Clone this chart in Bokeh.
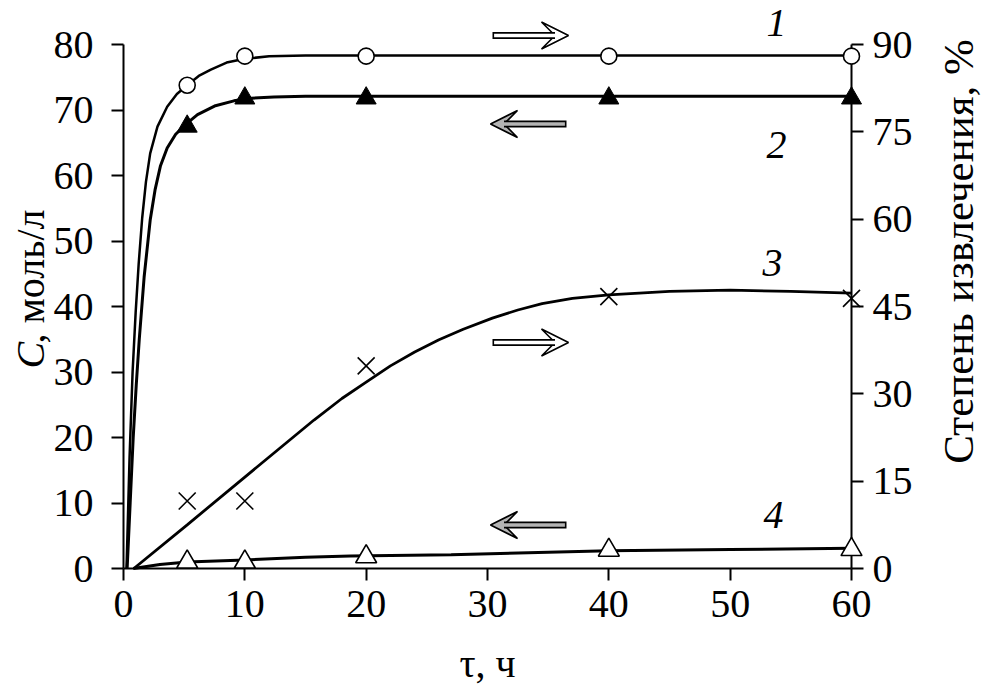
import math
from bokeh.plotting import figure
from bokeh.models import Range1d, LinearAxis, FixedTicker, Arrow, VeeHead
from bokeh.core.properties import value
from bokeh.embed import file_html
from bokeh.resources import INLINE

# ---------------- data ----------------
t_points = [5.25, 10, 20, 40, 60]
s1_extraction_pct = [83.0, 88.0, 88.0, 88.0, 88.0]   # curve 1 (right axis), open circles
s2_conc = [67.5, 71.8, 71.8, 71.8, 71.8]             # curve 2 (left axis), filled triangles
s3_extraction_pct = [11.6, 11.6, 34.8, 46.7, 46.4]   # curve 3 (right axis), crosses
s4_conc = [1.0, 1.0, 1.8, 2.8, 2.9]                  # curve 4 (left axis), open triangles

c1_t = [0.25, 0.5, 0.75, 1.0, 1.25, 1.54, 1.85, 2.2, 2.8, 3.6, 4.4, 5.25, 6.2, 7.2, 8.5, 9.9, 12, 15, 20, 40, 60]
c1_pct = [0, 19.1, 33.8, 43.9, 52.3, 60.2, 66.4, 71.3, 75.9, 79.3, 81.5, 83.0, 84.6, 85.7, 86.9, 87.5, 88.0, 88.1, 88.1, 88.1, 88.1]

c2_t = [0.3, 0.55, 0.8, 1.05, 1.3, 1.7, 2.2, 2.6, 3.05, 3.6, 4.3, 5.25, 6.1, 7.5, 9.1, 10.5, 12.4, 15, 20, 40, 60]
c2_conc = [0, 10, 20, 28, 35, 44.5, 53.2, 57.8, 61.5, 64.2, 66.3, 68.0, 69.3, 70.6, 71.4, 71.8, 72.0, 72.1, 72.1, 72.1, 72.1]

c3_t = [0.85, 5.25, 10, 15.7, 18, 20, 22, 24, 26, 28, 30.4, 32.5, 34.5, 37, 40, 45, 50, 55, 60]
c3_pct = [0, 7.5, 15.7, 25.5, 29.2, 32.0, 34.8, 37.2, 39.3, 41.1, 43.0, 44.4, 45.5, 46.4, 47.0, 47.6, 47.8, 47.6, 47.3]

c4_t = [0.8, 3, 5.25, 10, 15, 18.7, 27, 40, 50, 60]
c4_conc = [0, 0.6, 1.0, 1.3, 1.7, 1.9, 2.1, 2.7, 2.9, 3.1]

x_ticks = [0, 10, 20, 30, 40, 50, 60]
left_ticks = [0, 10, 20, 30, 40, 50, 60, 70, 80]
right_ticks = [0, 15, 30, 45, 60, 75, 90]

x_title = "τ, ч"
left_title_var = "C"
left_title_rest = ", моль/л"
right_title = "Степень извлечения, %"
curve_names = ["1", "2", "3", "4"]

# ---------------- layout (canvas pixels) ----------------
W, H = 987, 691
X0_PX, X60_PX = 123.0, 851.0      # x = 0 and x = 60
Y0_PX, Y80_PX = 568.0, 44.0       # left y = 0 and y = 80
FR_T = 15                          # frame top

xmax = x_ticks[-1]
ymax = left_ticks[-1]
ratio = right_ticks[-1] / left_ticks[-1]

def xd(px):
    return (px - X0_PX) * xmax / (X60_PX - X0_PX)

def yl(py):
    return (Y0_PX - py) * ymax / (Y0_PX - Y80_PX)

FONT = "Liberation Serif"

y_top = yl(FR_T)
p = figure(width=W, height=H,
           min_border_left=int(X0_PX), min_border_right=int(W - X60_PX),
           min_border_top=FR_T, min_border_bottom=int(H - Y0_PX),
           x_range=Range1d(0, xmax), y_range=Range1d(0, y_top),
           output_backend="svg", toolbar_location=None)
p.extra_y_ranges = {"right": Range1d(0, y_top * ratio)}
p.grid.visible = False
p.outline_line_color = None
p.background_fill_color = "white"
p.border_fill_color = "white"

right_axis = LinearAxis(y_range_name="right")
p.add_layout(right_axis, "right")

def style_axis(ax, ticks, standoff):
    ax.ticker = FixedTicker(ticks=ticks)
    ax.bounds = (ticks[0], ticks[-1])
    ax.axis_line_width = 2
    ax.axis_line_color = "black"
    ax.major_tick_line_width = 2
    ax.major_tick_line_color = "black"
    ax.major_tick_out = 12
    ax.major_tick_in = 0
    ax.minor_tick_out = 0
    ax.minor_tick_in = 0
    ax.major_label_text_font = FONT
    ax.major_label_text_font_size = "40px"
    ax.major_label_text_color = "black"
    ax.major_label_standoff = standoff

style_axis(p.xaxis[0], x_ticks, 10)
style_axis(p.yaxis[0], left_ticks, 18)
style_axis(right_axis, right_ticks, 9)

# ---------------- curves (overlay level: not clipped at frame edges) ----------------
p.line(c1_t, c1_pct, y_range_name="right", line_width=2.5, line_color="black", level="overlay")
p.line(c2_t, c2_conc, line_width=3, line_color="black", level="overlay")
p.line(c3_t, c3_pct, y_range_name="right", line_width=2.8, line_color="black", level="overlay")
p.line(c4_t, c4_conc, line_width=3, line_color="black", level="overlay")

# ---------------- markers ----------------
p.scatter(t_points, s1_extraction_pct, y_range_name="right", marker="circle", size=16,
          fill_color="white", line_color="black", line_width=1.6, level="overlay")
p.scatter(t_points, s2_conc, marker="triangle", size=20,
          fill_color="black", line_color="black", line_width=1, level="overlay")
p.scatter(t_points, s3_extraction_pct, y_range_name="right", marker="x", size=24,
          line_color="black", line_width=1.6, level="overlay")
p.scatter(t_points, s4_conc, marker="triangle", size=21,
          fill_color="white", line_color="black", line_width=1.6, level="overlay")

# ---------------- block arrows ----------------
HEAD = 27
def block_arrow(px_tail, px_tip, py, fill):
    y = yl(py)
    direction = 1 if px_tip > px_tail else -1
    notch_px = px_tip - direction * HEAD / 2
    p.add_layout(Arrow(x_start=xd(px_tail), y_start=y, x_end=xd(px_tip), y_end=y,
                       line_alpha=0,
                       end=VeeHead(size=HEAD, fill_color=fill, line_color="black", line_width=1.6)))
    p.add_layout(Arrow(x_start=xd(px_tail), y_start=y, x_end=xd(notch_px), y_end=y,
                       end=None, line_width=7, line_color="black"))
    p.add_layout(Arrow(x_start=xd(px_tail + direction * 1.6), y_start=y,
                       x_end=xd(notch_px + direction * 1.0), y_end=y,
                       end=None, line_width=3.6, line_color=fill))

block_arrow(492, 568, 35, "white")
block_arrow(492, 568, 342, "white")
block_arrow(566, 490, 123.5, "#b4b4b4")
block_arrow(566, 490, 524.5, "#b4b4b4")

# ---------------- texts as overlay glyphs ----------------
label_px = [(776, 22), (776, 144), (772, 262), (773, 514)]
p.text(x=[xd(a) for a, b in label_px], y=[yl(b) for a, b in label_px], text=curve_names,
       text_font=value(FONT), text_font_size="40px", text_font_style="italic",
       text_align="center", text_baseline="middle", text_color="black", level="overlay")

p.text(x=[xd(487)], y=[yl(663)], text=[x_title], text_font=value(FONT), text_font_size="40px",
       text_align="center", text_baseline="middle", text_color="black", level="overlay")
p.text(x=[xd(30)], y=[yl(368)], text=[left_title_var], text_font=value(FONT), text_font_size="40px",
       text_font_style="italic", text_align="left", text_baseline="middle",
       angle=math.pi / 2, text_color="black", level="overlay")
p.text(x=[xd(30)], y=[yl(343)], text=[left_title_rest], text_font=value(FONT), text_font_size="40px",
       text_align="left", text_baseline="middle",
       angle=math.pi / 2, text_color="black", level="overlay")
p.text(x=[xd(958)], y=[yl(251)], text=[right_title], text_font=value(FONT), text_font_size="43px",
       text_align="center", text_baseline="middle",
       angle=math.pi / 2, text_color="black", level="overlay")

open("out.html", "w").write(file_html(p, INLINE))
